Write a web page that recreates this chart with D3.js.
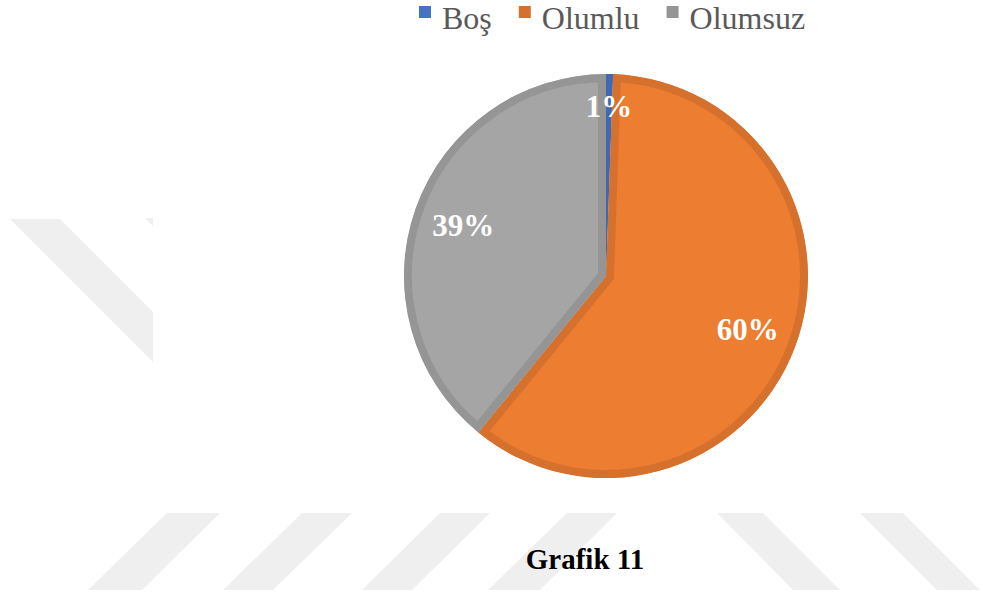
<!DOCTYPE html>
<html>
<head>
<meta charset="utf-8">
<title>Grafik 11</title>
<script src="https://d3js.org/d3.v7.min.js"></script>
<style>
  body { margin: 0; background: #fff; }
  svg { display: block; }
  svg text { font-family: "Liberation Serif", "Tinos", "Times New Roman", "DejaVu Serif", serif; }
</style>
</head>
<body>
<svg id="chart" width="983" height="599"></svg>
<script>
// chart data (answer counts)
var categories = ["Boş", "Olumlu", "Olumsuz"];
var counts = [1, 108, 70];
var fillColors = ["#4472C4", "#ED7D31", "#A5A5A5"];
var edgeColors = ["#3F69B4", "#D5712D", "#959595"];
var title = "Grafik 11";

var svg = d3.select("#chart");
var cx = 606, cy = 276, radius = 202;

// faint watermark stripes in the background
var wm = svg.append("g").attr("fill", "#efefef");
var stripes = [
  [[10,219],[60,219],[153,312],[153,362]],
  [[145,218],[153,218],[153,226]],
  [[167,513],[220,513],[142,590],[88,590]],
  [[302,513],[352,513],[273,590],[223,590]],
  [[440,513],[490,513],[412,590],[362,590]],
  [[567,513],[617,513],[540,590],[488,590]],
  [[717,513],[763,513],[840,590],[793,590]],
  [[860,513],[903,513],[980,590],[937,590]]
];
wm.selectAll("polygon").data(stripes).enter().append("polygon")
  .attr("points", function(d){ return d.map(function(p){ return p.join(","); }).join(" "); });

// pie
var total = d3.sum(counts);
var pie = d3.pie().sort(null).value(function(d){ return d; });
var arcs = pie(counts);
var arc = d3.arc().innerRadius(0).outerRadius(radius);

var g = svg.append("g").attr("transform", "translate(" + cx + "," + cy + ")");
var defs = svg.append("defs");

arcs.forEach(function(a, i){
  defs.append("clipPath").attr("id", "clip" + i)
    .append("path").attr("d", arc(a));
});

g.selectAll("path.slice").data(arcs).enter().append("path")
  .attr("class", "slice")
  .attr("d", arc)
  .attr("clip-path", function(d, i){ return "url(#clip" + i + ")"; })
  .attr("fill", function(d, i){ return fillColors[i]; })
  .attr("stroke", function(d, i){ return edgeColors[i]; })
  .attr("stroke-width", 16)
  .attr("stroke-linejoin", "miter");

// percentage labels
g.selectAll("text.lbl").data(arcs).enter().append("text")
  .attr("class", "lbl")
  .attr("transform", function(d){
    var pct = (d.endAngle - d.startAngle) / (2 * Math.PI);
    var r = pct < 0.05 ? radius * 0.84 : radius * 0.75;
    var mid = (d.startAngle + d.endAngle) / 2;
    return "translate(" + (Math.sin(mid) * r) + "," + (-Math.cos(mid) * r) + ")";
  })
  .attr("text-anchor", "middle")
  .attr("dy", "0.35em")
  .attr("fill", "#fff")
  .attr("font-weight", "bold")
  .attr("font-size", "31px")
  .text(function(d){ return Math.round(d.value / total * 100) + "%"; });

// legend on top
var legend = svg.append("g");
var lx = 419;
categories.forEach(function(c, i){
  legend.append("rect")
    .attr("x", lx).attr("y", 6).attr("width", 12).attr("height", 12)
    .attr("fill", i == 0 ? fillColors[i] : edgeColors[i]);
  var t = legend.append("text")
    .attr("x", lx + 23).attr("y", 29)
    .attr("font-size", "32px")
    .attr("fill", "#595959")
    .text(c);
  lx = lx + 23 + t.node().getComputedTextLength() + 27;
});

// caption
svg.append("text")
  .attr("x", 585).attr("y", 569)
  .attr("text-anchor", "middle")
  .attr("font-weight", "bold")
  .attr("font-size", "29px")
  .attr("fill", "#000")
  .text(title);
</script>
</body>
</html>
